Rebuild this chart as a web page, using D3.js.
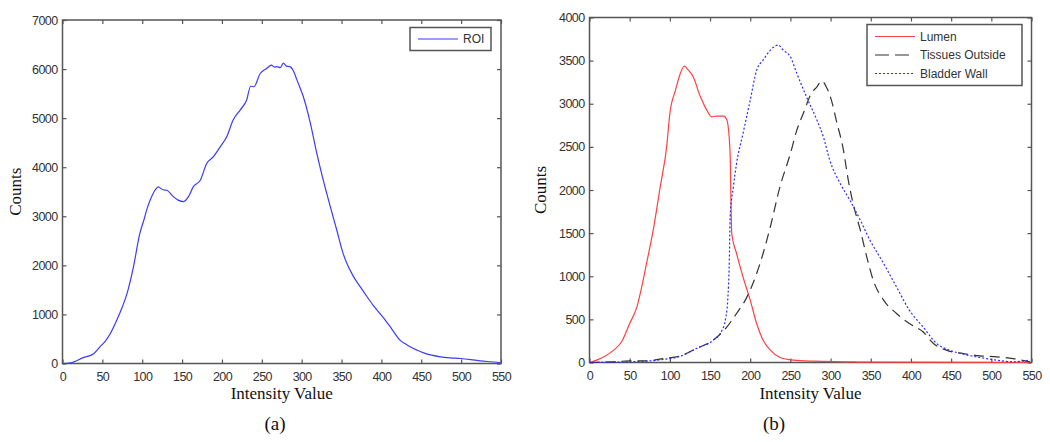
<!DOCTYPE html>
<html><head><meta charset="utf-8">
<script src="https://cdn.jsdelivr.net/npm/d3@7"></script>
<style>body{margin:0;background:#fff}svg{display:block}</style>
</head><body>
<svg id="c" width="1050" height="442"></svg>
<script>
// ---- data ----
const xTicks = [0,50,100,150,200,250,300,350,400,450,500,550];
const yTicksA = [0,1000,2000,3000,4000,5000,6000,7000];
const yTicksB = [0,500,1000,1500,2000,2500,3000,3500,4000];

const roiX = [0,10,26,39,47,54,60,68,75,81,89,97,102,106,110,116,120,126,131,139,145,152,158,164,173,181,189,198,206,214,223,231,236,240,248,256,262,266,269,273,277,281,285,290,294,302,311,319,327,336,344,352,358,365,374,382,390,398,405,411,417,423,430,436,445,453,463,474,486,499,512,524,537,549];
const roiY = [0,14,120,200,340,460,610,880,1150,1430,1970,2650,2920,3150,3330,3530,3600,3540,3530,3400,3330,3300,3400,3600,3740,4080,4210,4420,4620,4960,5170,5370,5650,5640,5910,6010,6080,6040,6050,6030,6120,6060,6050,5950,5780,5440,4890,4280,3740,3190,2720,2240,1990,1770,1550,1360,1180,1020,880,750,610,480,400,340,270,217,170,136,115,102,80,54,36,20];

const lumenX = [0,9,30,40,50,59,65,71,80,88,96,100,107,113,118,123,129,138,146,152,158,167,171,175,176,177,183,191,200,208,216,225,237,254,279,320,341,548];
const lumenY = [0,27,143,240,452,645,877,1148,1573,2037,2500,2887,3158,3351,3436,3390,3312,3080,2926,2848,2856,2856,2810,2423,1882,1496,1264,993,723,452,259,143,58,27,15,8,4,0];

const tissX = [0,30,50,71,92,113,133,154,171,183,196,208,216,225,237,250,258,266,276,283,289,295,301,307,316,322,328,337,345,353,366,382,398,415,428,444,465,486,507,527,548];
const tissY = [0,8,19,19,46,77,162,259,413,568,761,1032,1264,1573,2037,2423,2694,2887,3119,3196,3266,3189,3042,2810,2462,2114,1844,1534,1225,955,723,568,452,356,220,143,104,77,66,46,8];

const wallX = [0,50,92,113,133,154,165,169,172,174,175,179,183,191,200,208,216,225,235,241,250,258,270,283,291,299,312,324,337,349,366,382,398,415,432,448,465,486,507,527,548];
const wallY = [0,8,35,73,162,259,375,491,723,1187,1689,2037,2307,2655,3042,3390,3506,3622,3680,3622,3544,3351,3080,2810,2617,2346,2075,1882,1650,1418,1148,877,607,414,220,143,97,58,27,8,27];

// ---- drawing ----
const svg = d3.select("#c");
const zip = (xs, ys) => xs.map((x, i) => [x, ys[i]]);

function panel(o) {
  const g = svg.append("g");
  const x = d3.scaleLinear().domain([0, 550]).range([o.x0, o.x1]);
  const y = d3.scaleLinear().domain([0, o.ymax]).range([o.y1, o.y0]);
  const axCol = "#555";
  const tickFont = "Arial, 'Liberation Sans', sans-serif";
  const fmt = d3.format("d");

  const bx = g.append("g").attr("transform", `translate(0,${o.y1})`)
    .call(d3.axisBottom(x).tickValues(xTicks).tickFormat(fmt).tickSizeInner(-4).tickSizeOuter(0).tickPadding(9));
  const tx = g.append("g").attr("transform", `translate(0,${o.y0})`)
    .call(d3.axisTop(x).tickValues(xTicks).tickSizeInner(-4).tickSizeOuter(0).tickFormat(""));
  const ly = g.append("g").attr("transform", `translate(${o.x0},0)`)
    .call(d3.axisLeft(y).tickValues(o.yTicks).tickFormat(fmt).tickSizeInner(-4).tickSizeOuter(0).tickPadding(5));
  const ry = g.append("g").attr("transform", `translate(${o.x1},0)`)
    .call(d3.axisRight(y).tickValues(o.yTicks).tickSizeInner(-4).tickSizeOuter(0).tickFormat(""));
  [bx, tx, ly, ry].forEach(a => {
    a.select(".domain").remove();
    a.selectAll("line").attr("stroke", axCol).attr("stroke-width", 1.2);
    a.selectAll("text").attr("fill", "#333").attr("font-family", tickFont).attr("font-size", 12.5)
      .attr("letter-spacing", -0.6);
  });
  g.append("rect").attr("x", o.x0).attr("y", o.y0).attr("width", o.x1 - o.x0).attr("height", o.y1 - o.y0)
    .attr("fill", "none").attr("stroke", axCol).attr("stroke-width", 1.5);

  const line = d3.line().x(d => x(d[0])).y(d => y(d[1])).curve(d3.curveMonotoneX);
  o.series.forEach(s => {
    g.append("path").datum(zip(s.xs, s.ys)).attr("d", line).attr("fill", "none")
      .attr("stroke", s.color).attr("stroke-width", s.w || 1.2)
      .attr("stroke-dasharray", s.dash || null);
  });

  const serif = "'Times New Roman', 'Liberation Serif', serif";
  g.append("text").attr("x", (o.x0 + o.x1) / 2).attr("y", 399).attr("text-anchor", "middle")
    .attr("font-family", serif).attr("font-size", 17).attr("fill", "#111").text("Intensity Value");
  g.append("text").attr("transform", `translate(${o.ylabX},${(o.y0 + o.y1) / 2}) rotate(-90)`)
    .attr("text-anchor", "middle").attr("font-family", serif).attr("font-size", 17).attr("fill", "#111").text("Counts");
  g.append("text").attr("x", o.capX).attr("y", 430).attr("text-anchor", "middle")
    .attr("font-family", serif).attr("font-size", 19).attr("fill", "#111").text(o.caption);

  const L = o.legend;
  g.append("rect").attr("x", L.x).attr("y", L.y).attr("width", L.w).attr("height", L.h)
    .attr("fill", "#fff").attr("stroke", axCol).attr("stroke-width", 1.5);
  o.series.forEach((s, i) => {
    const yy = L.y + L.first + i * L.step;
    g.append("line").attr("x1", L.x + 8).attr("x2", L.x + 48).attr("y1", yy).attr("y2", yy)
      .attr("stroke", s.color).attr("stroke-width", s.w || 1.2).attr("stroke-dasharray", s.ldash || s.dash || null);
    g.append("text").attr("x", L.x + 53).attr("y", yy + 4).attr("font-family", tickFont)
      .attr("font-size", 12).attr("fill", "#333").text(s.name);
  });
}

panel({
  x0: 62.5, x1: 501, y0: 20, y1: 363.5, ymax: 7000, yTicks: yTicksA, ylabX: 21, capX: 275, caption: "(a)",
  series: [{ name: "ROI", xs: roiX, ys: roiY, color: "#3b3bff" }],
  legend: { x: 410, y: 27.5, w: 81, h: 23, first: 11.5, step: 19 }
});
panel({
  x0: 589.5, x1: 1031.5, y0: 17.5, y1: 362.5, ymax: 4000, yTicks: yTicksB, ylabX: 546, capX: 774, caption: "(b)",
  series: [
    { name: "Lumen", xs: lumenX, ys: lumenY, color: "#ff4040" },
    { name: "Tissues Outside", xs: tissX, ys: tissY, color: "#333", dash: "10,6", ldash: "14,6" },
    { name: "Bladder Wall", xs: wallX, ys: wallY, color: "#2b2bff", dash: "2,2" }
  ],
  legend: { x: 867, y: 24.5, w: 155, h: 61, first: 12, step: 18.5 }
});
</script>
</body></html>
